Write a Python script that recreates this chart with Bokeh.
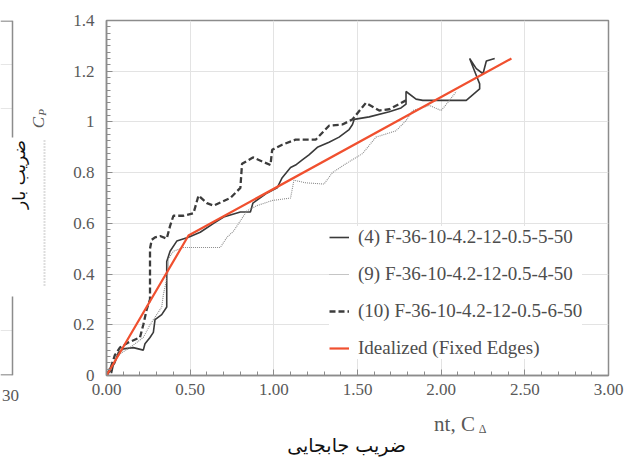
import math
from bokeh.plotting import figure
from bokeh.layouts import row
from bokeh.models import (Range1d, FixedTicker, NumeralTickFormatter, Legend, LegendItem, LinearAxis)
from bokeh.core.properties import value
from bokeh.embed import file_html
from bokeh.resources import INLINE

# ---------------- data ----------------
# (4) F-36-10-4.2-12-0.5-5-50  (solid)
s4_x = [0, 0.02, 0.03, 0.04, 0.05, 0.07, 0.10, 0.16, 0.22, 0.23, 0.26, 0.28, 0.29, 0.33, 0.36, 0.36, 0.36,
        0.38, 0.42, 0.49, 0.56, 0.64, 0.70, 0.80, 0.86, 0.875, 0.96, 1.02, 1.05, 1.10, 1.13, 1.17, 1.21,
        1.26, 1.33, 1.39, 1.45, 1.47, 1.48, 1.57, 1.69, 1.76, 1.79, 1.79, 1.85, 1.89, 2.15, 2.23, 2.23,
        2.20, 2.17, 2.21, 2.25, 2.27, 2.32]
s4_y = [0, 0.03, 0.01, 0.04, 0.05, 0.09, 0.105, 0.11, 0.10, 0.125, 0.15, 0.17, 0.22, 0.24, 0.27, 0.36, 0.45,
        0.49, 0.53, 0.545, 0.565, 0.60, 0.625, 0.645, 0.645, 0.68, 0.72, 0.74, 0.78, 0.82, 0.83, 0.85, 0.87,
        0.90, 0.92, 0.94, 0.97, 0.99, 1.01, 1.02, 1.04, 1.055, 1.07, 1.12, 1.09, 1.085, 1.085, 1.13, 1.15,
        1.20, 1.25, 1.21, 1.19, 1.24, 1.25]

# (9) F-36-10-4.2-12-0.5-4-50  (dotted)
s9_x = [0, 0.02, 0.04, 0.06, 0.09, 0.14, 0.18, 0.22, 0.26, 0.30, 0.33, 0.34, 0.36, 0.37, 0.37, 0.40, 0.46,
        0.55, 0.68, 0.72, 0.76, 0.80, 0.84, 0.90, 0.99, 1.10, 1.12, 1.19, 1.30, 1.35, 1.43, 1.53, 1.61,
        1.73, 1.79, 1.83, 1.93, 2.00, 2.05, 2.09]
s9_y = [0, 0.02, 0.05, 0.07, 0.09, 0.11, 0.13, 0.15, 0.20, 0.24, 0.27, 0.32, 0.38, 0.42, 0.46, 0.49, 0.505,
        0.505, 0.505, 0.545, 0.57, 0.61, 0.65, 0.67, 0.69, 0.70, 0.77, 0.76, 0.755, 0.80, 0.835, 0.875, 0.94,
        0.965, 1.005, 1.045, 1.065, 1.045, 1.085, 1.12]

# (10) F-36-10-4.2-12-0.5-6-50  (dashed)
s10_x = [0, 0.02, 0.05, 0.08, 0.13, 0.20, 0.22, 0.24, 0.26, 0.26, 0.26, 0.27, 0.29, 0.32, 0.36, 0.38, 0.40,
         0.46, 0.52, 0.55, 0.60, 0.64, 0.74, 0.80, 0.81, 0.875, 0.98, 0.99, 1.05, 1.13, 1.21, 1.25, 1.33,
         1.41, 1.47, 1.55, 1.63, 1.69, 1.79]
s10_y = [0, 0.02, 0.08, 0.11, 0.13, 0.15, 0.20, 0.26, 0.30, 0.40, 0.50, 0.535, 0.545, 0.55, 0.54, 0.59, 0.63,
         0.63, 0.64, 0.71, 0.68, 0.67, 0.70, 0.74, 0.835, 0.86, 0.83, 0.89, 0.91, 0.93, 0.93, 0.93, 0.985,
         0.99, 1.01, 1.075, 1.045, 1.05, 1.085]

# Idealized (Fixed Edges)
ideal_x = [0, 0.49, 2.42]
ideal_y = [0, 0.552, 1.25]

series_labels = ["(4) F-36-10-4.2-12-0.5-5-50", "(9) F-36-10-4.2-12-0.5-4-50",
                 "(10) F-36-10-4.2-12-0.5-6-50", "Idealized (Fixed Edges)"]
x_ticks = [0, 0.5, 1.0, 1.5, 2.0, 2.5, 3.0]
y_ticks = [0, 0.2, 0.4, 0.6, 0.8, 1.0, 1.2, 1.4]
x_title_fa = "ضریب جابجایی"
x_title_en_rest = "nt, C"
x_title_sub = "Δ"
y_title_fa = "ضریب بار"

# ---------------- styles ----------------
SERIF = "Liberation Serif"
AX = "#8c8c8c"
TXT = "#595959"
H = 459


def bare_axis(ax):
    ax.axis_line_color = None
    ax.major_tick_line_color = None
    ax.minor_tick_line_color = None


# ---------------- left strip (neighbouring panel remnants) ----------------
# frame of this strip is aligned with the main frame: pixel rows 20..375
p0 = figure(width=60, height=459, x_range=Range1d(0, 60), y_range=Range1d(H - 375, H - 20),
            output_backend="svg", toolbar_location=None,
            min_border_left=0, min_border_right=0, min_border_top=20, min_border_bottom=84)
p0.yaxis.visible = False
p0.grid.visible = False
p0.outline_line_color = None
p0.xaxis.ticker = FixedTicker(ticks=[10])
p0.xaxis.major_label_overrides = {10: "30"}
bare_axis(p0.xaxis)
p0.xaxis.major_label_text_font = SERIF
p0.xaxis.major_label_text_font_size = "17px"
p0.xaxis.major_label_text_color = TXT
p0.xaxis.major_label_standoff = 8

p0.segment(x0=[0, 0, 0, 0, 0], y0=[H - 64, H - 108, H - 330, H - 20.5, H - 374.5],
           x1=[12, 12, 12, 12, 12], y1=[H - 64, H - 108, H - 330, H - 20.5, H - 374.5],
           line_color=["#e6e6e6", "#e6e6e6", "#e6e6e6", AX, AX], line_width=[1, 1, 1, 1.5, 1.5])
p0.segment(x0=[12, 12], y0=[H - 20, H - 296], x1=[12, 12], y1=[H - 137, H - 375],
           line_color=AX, line_width=1.5)
p0.segment(x0=[44], y0=[H - 140], x1=[44], y1=[H - 285], line_color="#a0a0a0",
           line_width=2, line_dash="1 2", line_alpha=0.7)
p0.text(x=[18], y=[H - 174], text=[y_title_fa], angle=math.pi / 2, text_font=value("DejaVu Sans"),
        text_font_size="17px", text_color="#111111", text_align="center", text_baseline="middle")
p0.text(x=[38], y=[H - 122], text=["C"], angle=math.pi / 2, text_font=value(SERIF),
        text_font_style="italic", text_font_size="17px", text_color=TXT,
        text_align="center", text_baseline="middle")
p0.text(x=[41], y=[H - 112], text=["P"], angle=math.pi / 2, text_font=value(SERIF),
        text_font_style="italic", text_font_size="11px", text_color=TXT,
        text_align="center", text_baseline="middle")

# ---------------- main chart ----------------
p = figure(width=574, height=459, x_range=Range1d(0, 3), y_range=Range1d(0, 1.4),
           output_backend="svg", toolbar_location=None,
           min_border_left=46, min_border_right=26, min_border_top=20, min_border_bottom=84)
p.background_fill_color = "white"
p.border_fill_color = "white"
p.outline_line_color = AX
p.outline_line_width = 1.5

minor_x = [round(i * 0.1, 3) for i in range(31)]
minor_y = [round(i * 0.025, 4) for i in range(57)]
p.xaxis.ticker = FixedTicker(ticks=x_ticks, minor_ticks=minor_x)
p.yaxis.ticker = FixedTicker(ticks=y_ticks, minor_ticks=minor_y)
p.xaxis.formatter = NumeralTickFormatter(format="0.00")
p.yaxis.formatter = NumeralTickFormatter(format="0.[0]")
for ax in (p.xaxis, p.yaxis):
    ax.axis_line_color = AX
    ax.axis_line_width = 1.5
    ax.major_tick_line_color = AX
    ax.minor_tick_line_color = AX
    ax.major_tick_in = 6
    ax.major_tick_out = 0
    ax.minor_tick_in = 4
    ax.minor_tick_out = 0
    ax.major_label_text_font = SERIF
    ax.major_label_text_font_size = "17px"
    ax.major_label_text_color = TXT
p.xaxis.major_label_standoff = 8
p.yaxis.major_label_standoff = 12

p.xgrid.ticker = FixedTicker(ticks=x_ticks)
p.ygrid.ticker = FixedTicker(ticks=y_ticks)
p.grid.grid_line_color = "#e3e3e3"
p.grid.grid_line_width = 1

r4 = p.line(s4_x, s4_y, line_color="#3a3a3a", line_width=1.6)
r9 = p.line(s9_x, s9_y, line_color="#8a8a8a", line_width=1.1, line_dash="1 1")
r10 = p.line(s10_x, s10_y, line_color="#3c3c3c", line_width=2.3, line_dash="6 3")
rid = p.line(ideal_x, ideal_y, line_color="#f0502f", line_width=2.2)

legend = Legend(items=[LegendItem(label=series_labels[0], renderers=[r4]),
                       LegendItem(label=series_labels[1], renderers=[r9]),
                       LegendItem(label=series_labels[2], renderers=[r10]),
                       LegendItem(label=series_labels[3], renderers=[rid])],
                location=(223, 16), orientation="vertical")
legend.label_text_font = SERIF
legend.label_text_font_size = "19px"
legend.label_text_color = "#4d4d4d"
legend.glyph_width = 20
legend.glyph_height = 22
legend.label_height = 22
legend.spacing = 15
legend.padding = 10
legend.margin = 0
legend.label_standoff = 9
legend.border_line_color = None
legend.background_fill_color = "white"
legend.background_fill_alpha = 1.0
p.add_layout(legend)

# remnants of the axis titles below the chart, placed as labels of bare extra axes
# (extra range in page pixels of the frame, 106..608)
p.extra_x_ranges = {"page": Range1d(106, 608)}
ax_en = LinearAxis(x_range_name="page", ticker=FixedTicker(ticks=[454]),
                   major_label_overrides={454: x_title_en_rest})
ax_sub = LinearAxis(x_range_name="page", ticker=FixedTicker(ticks=[482]),
                    major_label_overrides={482: x_title_sub})
ax_fa = LinearAxis(x_range_name="page", ticker=FixedTicker(ticks=[346]),
                   major_label_overrides={346: x_title_fa})
for ax, font, size, col, so in ((ax_en, SERIF, "21px", TXT, 14),
                                (ax_sub, SERIF, "12px", TXT, -17),
                                (ax_fa, "DejaVu Sans", "19px", "#111111", -5)):
    bare_axis(ax)
    ax.major_label_text_font = font
    ax.major_label_text_font_size = size
    ax.major_label_text_color = col
    ax.major_label_standoff = so
    ax.major_tick_in = 0
    ax.major_tick_out = 0
    ax.minor_tick_in = 0
    ax.minor_tick_out = 0
    p.add_layout(ax, "below")

layout = row(p0, p, spacing=0)
open("out.html", "w").write(file_html(layout, INLINE))
